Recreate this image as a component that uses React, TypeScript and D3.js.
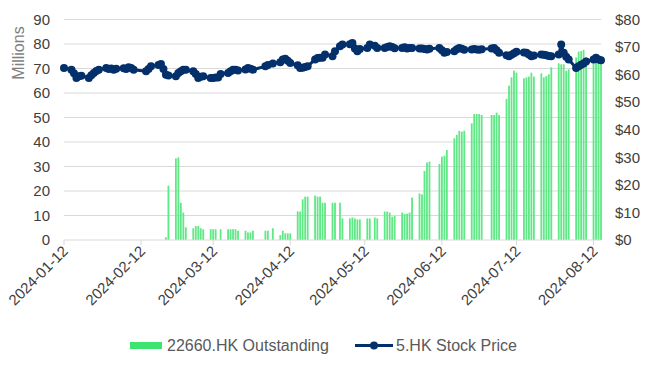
import React from 'react';
import * as d3 from 'd3';

// trading days per month (2024), HK holidays skipped
const janDays = [12, 15, 16, 17, 18, 19, 22, 23, 24, 25, 26, 29, 30, 31];
const febDays = [1, 2, 5, 6, 7, 8, 9, 14, 15, 16, 19, 20, 21, 22, 23, 26, 27, 28, 29];
const marDays = [1, 4, 5, 6, 7, 8, 11, 12, 13, 14, 15, 18, 19, 20, 21, 22, 25, 26, 27, 28];
const aprDays = [2, 3, 5, 8, 9, 10, 11, 12, 15, 16, 17, 18, 19, 22, 23, 24, 25, 26, 29, 30];
const mayDays = [2, 3, 6, 7, 8, 9, 10, 13, 14, 16, 17, 20, 21, 22, 23, 24, 27, 28, 29, 30, 31];
const junDays = [3, 4, 5, 6, 7, 11, 12, 13, 14, 17, 18, 19, 20, 21, 24, 25, 26, 27, 28];
const julDays = [2, 3, 4, 5, 8, 9, 10, 11, 12, 15, 16, 17, 18, 19, 22, 23, 24, 25, 26, 29, 30, 31];
const augDays = [1, 2, 5, 6, 7, 8, 9, 12, 13, 14, 15];

// 5.HK stock price (HK$)
const priceJan = [62.4, 61.8, 60.5, 58.8, 59.4, 59.6, 58.8, 59.8, 60.6, 61.3, 61.8, 62.4, 62.0, 62.2];
const priceFeb = [61.8, 62.1, 62.3, 62.0, 62.7, 62.4, 61.8, 61.2, 62.0, 63.0, 63.5, 63.9, 62.0, 60.0, 59.7, 59.4, 60.6, 61.2, 61.8];
const priceMar = [61.8, 61.2, 60.2, 58.8, 59.2, 59.4, 58.8, 58.8, 59.0, 59.0, 60.2, 60.6, 61.2, 61.8, 61.8, 61.5, 61.9, 62.4, 62.1, 61.8];
const priceApr = [63.0, 63.5, 64.0, 64.5, 65.5, 65.8, 65.0, 64.2, 63.4, 62.4, 62.5, 62.8, 63.0, 65.5, 66.0, 66.1, 66.1, 67.3, 66.7, 68.5];
const priceMay = [70.3, 70.9, 71.0, 71.5, 69.5, 68.5, 69.3, 69.7, 70.9, 70.5, 69.7, 69.7, 70.0, 70.3, 70.0, 69.6, 69.7, 69.9, 69.5, 69.7, 69.7];
const priceJun = [69.5, 69.5, 69.3, 69.1, 69.4, 69.7, 68.8, 67.9, 68.2, 68.5, 69.2, 69.7, 69.4, 69.0, 69.1, 69.3, 69.1, 69.0, 69.2];
const priceJul = [69.5, 69.7, 68.8, 67.9, 67.0, 66.7, 67.2, 67.8, 68.3, 68.0, 67.9, 67.3, 66.7, 66.9, 67.3, 67.2, 67.0, 66.8, 66.7, 67.3, 70.9, 67.9];
const priceAug = [66.5, 65.5, 62.4, 63.0, 63.6, 64.0, 64.8, 65.5, 66.1, 65.5, 65.2];

// 22660.HK outstanding (millions)
const outJan = [0, 0, 0, 0, 0, 0, 0, 0, 0, 0, 0, 0, 0, 0];
const outFeb = [0, 0, 0, 0, 0, 0, 0, 0, 0, 0, 0, 0, 0, 1.1, 22.2, 33.3, 33.7, 15.2, 11.2];
const outMar = [5.2, 4.8, 5.7, 5.7, 4.8, 4.4, 4.4, 4.4, 4.4, 0, 4.4, 4.4, 4.4, 4.4, 4.4, 3.8, 3.8, 3.1, 3.1, 3.8];
const outApr = [3.8, 3.8, 4.8, 2.0, 3.8, 2.7, 2.7, 2.7, 11.7, 11.6, 16.6, 17.7, 17.7, 18.1, 17.7, 17.7, 15.2, 15.2, 15.2, 15.2];
const outMay = [15.2, 8.8, 8.8, 9.2, 8.8, 8.4, 8.4, 8.8, 8.8, 9.2, 8.8, 11.6, 11.6, 11.2, 9.5, 9.8, 11.2, 10.7, 10.7, 11.2, 17.3];
const outJun = [19.0, 18.6, 28.2, 31.6, 32.0, 31.0, 34.0, 34.4, 36.7, 41.5, 42.9, 44.5, 44.2, 44.6, 47.6, 51.4, 51.4, 51.4, 51.0];
const outJul = [51.0, 51.0, 52.0, 51.0, 57.6, 63.0, 66.4, 69.1, 68.3, 66.0, 66.4, 66.7, 68.3, 66.7, 68.0, 66.4, 66.9, 67.6, 70.5, 72.1, 71.7, 71.7];
const outAug = [69.1, 69.7, 74.5, 76.9, 77.1, 77.6, 74.6, 74.5, 75.0, 74.8, 75.0];

const xTickLabels = ['2024-01-12', '2024-02-12', '2024-03-12', '2024-04-12', '2024-05-12', '2024-06-12', '2024-07-12', '2024-08-12'];
const leftTicks = [0, 10, 20, 30, 40, 50, 60, 70, 80, 90];
const rightTicks = [0, 10, 20, 30, 40, 50, 60, 70, 80];

const width = 663;
const height = 367;
const margin = { top: 19.5, right: 62, bottom: 127, left: 64 };
const font = '"Liberation Sans", Arial, sans-serif';
const navy = '#03306b';

const parseDay = d3.utcParse('%Y-%m-%d');

const App = () => {
  const monthDays = [janDays, febDays, marDays, aprDays, mayDays, junDays, julDays, augDays];
  const monthPrice = [priceJan, priceFeb, priceMar, priceApr, priceMay, priceJun, priceJul, priceAug];
  const monthOut = [outJan, outFeb, outMar, outApr, outMay, outJun, outJul, outAug];

  const rows = monthDays.flatMap((days, m) =>
    days.map((d, i) => ({
      date: new Date(Date.UTC(2024, m, d)),
      price: monthPrice[m][i],
      out: monthOut[m][i],
    }))
  );

  const x = d3.scaleUtc()
    .domain([rows[0].date, rows[rows.length - 1].date])
    .range([margin.left, width - margin.right]);
  const yL = d3.scaleLinear().domain([0, 90]).range([height - margin.bottom, margin.top]);
  const yR = d3.scaleLinear().domain([0, 80]).range([height - margin.bottom, margin.top]);

  const line = d3.line<any>()
    .x(d => x(d.date))
    .y(d => yR(d.price));

  const barW = 1.8;
  const base = yL(0);

  return (
    <svg width={width} height={height} style={{ position: 'absolute', left: 0, top: 0, background: '#fff' }}>
      {/* gridlines */}
      {leftTicks.filter(t => t > 0).map(t => (
        <line key={t} x1={margin.left} x2={width - margin.right} y1={yL(t)} y2={yL(t)} stroke="#d9d9d9" strokeWidth={1} />
      ))}

      {/* bars */}
      {rows.filter(r => r.out > 0).map((r, i) => (
        <rect key={i} x={x(r.date) - barW / 2} y={yL(r.out)} width={barW} height={base - yL(r.out)} fill="#5fe885" />
      ))}

      {/* x axis */}
      <line x1={margin.left} x2={width - margin.right} y1={base} y2={base} stroke="#d9d9d9" strokeWidth={1} />
      {xTickLabels.map(lbl => {
        const tx = x(parseDay(lbl) as Date);
        return (
          <g key={lbl}>
            <line x1={tx} x2={tx} y1={base} y2={base + 5} stroke="#d9d9d9" />
            <text
              transform={`translate(${tx + 5},${base + 12}) rotate(-45)`}
              textAnchor="end"
              fontFamily={font}
              fontSize={15}
              fill="#404040"
            >
              {lbl}
            </text>
          </g>
        );
      })}

      {/* price line */}
      <path d={line(rows) || ''} fill="none" stroke={navy} strokeWidth={3} strokeLinejoin="round" />
      {rows.map((r, i) => (
        <circle key={i} cx={x(r.date)} cy={yR(r.price)} r={4} fill={navy} />
      ))}

      {/* left axis */}
      {leftTicks.map(t => (
        <text key={t} x={50} y={yL(t)} dy="0.35em" textAnchor="end" fontFamily={font} fontSize={15} fill="#404040">
          {t}
        </text>
      ))}
      <text transform="translate(24,53) rotate(-90)" textAnchor="middle" fontFamily={font} fontSize={16} fill="#7f7f7f">
        Millions
      </text>

      {/* right axis */}
      {rightTicks.map(t => (
        <text key={t} x={615} y={yR(t)} dy="0.35em" textAnchor="start" fontFamily={font} fontSize={15} fill="#404040">
          {`$${t}`}
        </text>
      ))}

      {/* legend */}
      <rect x={130} y={342} width={32} height={7} fill="#3de46f" />
      <text x={167} y={351} fontFamily={font} fontSize={16} fill="#595959">22660.HK Outstanding</text>
      <line x1={355} x2={393} y1={345.5} y2={345.5} stroke={navy} strokeWidth={3} />
      <circle cx={374} cy={345.5} r={4} fill={navy} />
      <text x={396} y={351} fontFamily={font} fontSize={16} fill="#595959">5.HK Stock Price</text>
    </svg>
  );
};

export default App;
